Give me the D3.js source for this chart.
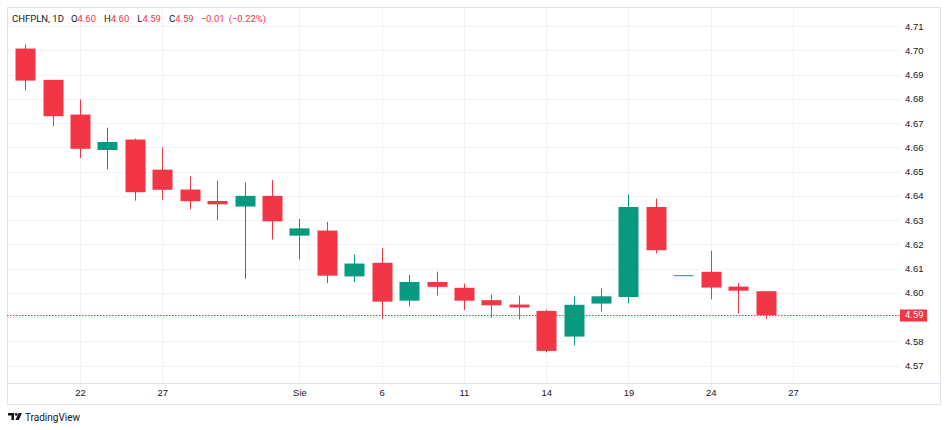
<!DOCTYPE html>
<html>
<head>
<meta charset="utf-8">
<script src="https://cdn.jsdelivr.net/npm/d3@7"></script>
<style>
  body { margin: 0; background: #fff; }
  svg { display: block; font-family: Roboto, "Noto Sans", sans-serif; }
</style>
</head>
<body>
<div id="chart"></div>
<script>
// daily bars, CHFPLN
const dates = [
  "2026-07-20", "2026-07-21", "2026-07-22", "2026-07-23", "2026-07-24",
  "2026-07-27", "2026-07-28", "2026-07-29", "2026-07-30", "2026-07-31",
  "2026-08-03", "2026-08-04", "2026-08-05", "2026-08-06", "2026-08-07",
  "2026-08-10", "2026-08-11", "2026-08-12", "2026-08-13", "2026-08-14",
  "2026-08-17", "2026-08-18", "2026-08-19", "2026-08-20", "2026-08-21",
  "2026-08-24", "2026-08-25", "2026-08-26"
];
// empty slots on the right of the last bar
const futureDates = ["2026-08-27", "2026-08-28", "2026-08-31"];

const open = [4.7007, 4.6878, 4.6735, 4.6589, 4.6632, 4.6508, 4.6426, 4.6379, 4.6356, 4.6400,
  4.6236, 4.6257, 4.6068, 4.6124, 4.5968, 4.6045, 4.6021, 4.5970, 4.5952, 4.5926,
  4.5820, 4.5956, 4.5983, 4.6354, 4.6073, 4.6087, 4.6026, 4.6007];
const high = [4.7023, 4.6878, 4.6797, 4.6681, 4.6636, 4.6600, 4.6481, 4.6462, 4.6455, 4.6466,
  4.6305, 4.6293, 4.6158, 4.6184, 4.6074, 4.6088, 4.6038, 4.5993, 4.5989, 4.5931,
  4.5986, 4.6018, 4.6405, 4.6389, 4.6073, 4.6174, 4.6041, 4.6007];
const low = [4.6835, 4.6687, 4.6555, 4.6509, 4.6380, 4.6383, 4.6345, 4.6301, 4.6058, 4.6220,
  4.6138, 4.6040, 4.6044, 4.5893, 4.5945, 4.5989, 4.5930, 4.5898, 4.5891, 4.5755,
  4.5784, 4.5924, 4.5957, 4.6163, 4.6073, 4.5974, 4.5915, 4.5893];
const close = [4.6875, 4.6728, 4.6594, 4.6622, 4.6415, 4.6425, 4.6378, 4.6365, 4.6400, 4.6295,
  4.6266, 4.6071, 4.6121, 4.5964, 4.6045, 4.6025, 4.5968, 4.5949, 4.5940, 4.5761,
  4.5951, 4.5986, 4.6354, 4.6176, 4.6073, 4.6022, 4.6009, 4.5908];

const tickDates = ["2026-07-22", "2026-07-27", "2026-08-03", "2026-08-06", "2026-08-11",
  "2026-08-14", "2026-08-19", "2026-08-24", "2026-08-27"];
const tickLabels = ["22", "27", "Sie", "6", "11", "14", "19", "24", "27"];
const priceTicks = [4.57, 4.58, 4.59, 4.60, 4.61, 4.62, 4.63, 4.64, 4.65, 4.66, 4.67, 4.68, 4.69, 4.70, 4.71];

const symbol = "CHFPLN, 1D";

// layout
const W = 948, H = 430;
const frameL = 7, frameT = 7, plotRight = 900, frameRight = 940;
const axisY = 383, frameBottom = 404;
const step = 27.42;
const bodyW = 20;

const up = "#089981", down = "#f23645";
const gridColor = "#f2f3f7", borderColor = "#e0e3eb", textColor = "#131722";

const svg = d3.select("#chart").append("svg")
  .attr("width", W)
  .attr("height", H);

const allDates = dates.concat(futureDates);
const x = d3.scalePoint()
  .domain(allDates)
  .range([25.2, 25.2 + step * (allDates.length - 1)]);

const y = d3.scaleLinear()
  .domain([4.57, 4.71])
  .range([365.7, 26]);

// grid
svg.append("g")
  .selectAll("line")
  .data(priceTicks)
  .join("line")
  .attr("x1", frameL).attr("x2", plotRight)
  .attr("y1", d => Math.round(y(d)) + 0.5)
  .attr("y2", d => Math.round(y(d)) + 0.5)
  .attr("stroke", gridColor);

svg.append("g")
  .selectAll("line")
  .data(tickDates)
  .join("line")
  .attr("x1", d => Math.round(x(d)) + 0.5)
  .attr("x2", d => Math.round(x(d)) + 0.5)
  .attr("y1", frameT).attr("y2", axisY)
  .attr("stroke", gridColor);

// frame and time-axis separator
svg.append("rect")
  .attr("x", frameL + 0.5).attr("y", frameT + 0.5)
  .attr("width", frameRight - frameL).attr("height", frameBottom - frameT)
  .attr("fill", "none")
  .attr("stroke", borderColor);

svg.append("line")
  .attr("x1", frameL).attr("x2", frameRight)
  .attr("y1", axisY + 0.5).attr("y2", axisY + 0.5)
  .attr("stroke", borderColor);

// candles
const bars = d3.range(dates.length).map(i => ({
  date: dates[i], o: open[i], h: high[i], l: low[i], c: close[i]
}));

const candle = svg.append("g")
  .selectAll("g")
  .data(bars)
  .join("g")
  .attr("fill", d => d.c >= d.o ? up : down)
  .attr("stroke", d => d.c >= d.o ? up : down);

candle.append("line")
  .attr("x1", d => Math.round(x(d.date)) + 0.5)
  .attr("x2", d => Math.round(x(d.date)) + 0.5)
  .attr("y1", d => y(d.h))
  .attr("y2", d => y(d.l))
  .attr("stroke-width", 1);

candle.append("rect")
  .attr("x", d => Math.round(x(d.date)) - bodyW / 2 + 0.5)
  .attr("y", d => y(Math.max(d.o, d.c)))
  .attr("width", bodyW)
  .attr("height", d => Math.max(1, Math.abs(y(d.o) - y(d.c))))
  .attr("stroke", "none");

// last price line
const last = close[close.length - 1];
svg.append("line")
  .attr("x1", frameL).attr("x2", plotRight)
  .attr("y1", Math.round(y(last)) + 0.5)
  .attr("y2", Math.round(y(last)) + 0.5)
  .attr("stroke", down)
  .attr("stroke-width", 1)
  .attr("stroke-dasharray", "1.5,1.5");

// price axis (the tick hidden behind the last price label is dropped)
const yAxis = d3.axisRight(y)
  .tickValues(priceTicks.filter(v => Math.abs(y(v) - y(last)) > 10))
  .tickSize(0)
  .tickPadding(23.5)
  .tickFormat(d3.format(".2f"));

const gy = svg.append("g")
  .attr("transform", `translate(${plotRight},0)`)
  .call(yAxis);
gy.select(".domain").remove();
gy.selectAll("text")
  .attr("text-anchor", "end")
  .attr("fill", textColor)
  .style("font-size", "9.5px");

// last price label
svg.append("rect")
  .attr("x", plotRight).attr("y", Math.round(y(last)) - 5.5)
  .attr("width", 27).attr("height", 12)
  .attr("fill", down);
svg.append("text")
  .attr("x", 923.5).attr("y", y(last))
  .attr("dy", "0.34em")
  .attr("text-anchor", "end")
  .attr("fill", "#fff")
  .style("font-size", "9.5px")
  .text(d3.format(".2f")(last));

// time axis
const xAxis = d3.axisBottom(x)
  .tickValues(tickDates)
  .tickSize(0)
  .tickPadding(6.5)
  .tickFormat((d, i) => tickLabels[i]);

const gx = svg.append("g")
  .attr("transform", `translate(0,${axisY})`)
  .call(xAxis);
gx.select(".domain").remove();
gx.selectAll("text")
  .attr("fill", textColor)
  .style("font-size", "9.5px");

// legend row with the last bar
const fmt = v => d3.format(".2f")(v).replace("-", "\u2212");
const prev = close[close.length - 2];
const chg = last - prev;
const legendParts = [
  { t: symbol, c: textColor, gap: 7 },
  { t: "O", c: textColor, gap: 0 },
  { t: fmt(open[open.length - 1]), c: down, gap: 8 },
  { t: "H", c: textColor, gap: 0 },
  { t: fmt(high[high.length - 1]), c: down, gap: 8 },
  { t: "L", c: textColor, gap: 0 },
  { t: fmt(low[low.length - 1]), c: down, gap: 8 },
  { t: "C", c: textColor, gap: 0 },
  { t: fmt(last), c: down, gap: 7 },
  { t: fmt(chg), c: down, gap: 4 },
  { t: "(" + fmt(chg / prev * 100) + "%)", c: down, gap: 0 }
];

let lx = 12;
legendParts.forEach(p => {
  const t = svg.append("text")
    .attr("x", lx).attr("y", 19)
    .attr("dy", "0.35em")
    .attr("fill", p.c)
    .style("font-size", "9.5px")
    .text(p.t);
  lx += t.node().getComputedTextLength() + p.gap;
});

// TradingView mark
const logo = svg.append("g")
  .attr("transform", "translate(8,413)")
  .attr("fill", textColor);
logo.append("path").attr("d", "M0,0H6V7H3.4V2.6H0Z");
logo.append("circle").attr("cx", 8.2).attr("cy", 1.4).attr("r", 1.4);
logo.append("path").attr("d", "M10.6,0H14L10.8,7H7.4Z");
svg.append("text")
  .attr("x", 25).attr("y", 417)
  .attr("dy", "0.35em")
  .attr("fill", textColor)
  .style("font-size", "10px")
  .text("TradingView");
</script>
</body>
</html>
